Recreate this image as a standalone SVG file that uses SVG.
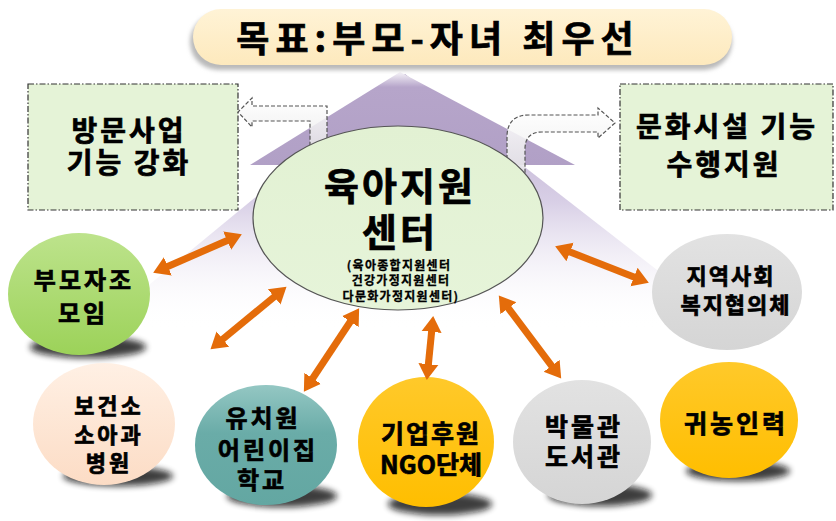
<svg xmlns="http://www.w3.org/2000/svg" width="836" height="521" viewBox="0 0 836 521">
<defs>
<style>
.t{font-family:"Noto Sans CJK KR","Noto Sans",sans-serif;font-weight:bold;fill:#000;stroke:#000;stroke-width:0.7;text-anchor:middle}
.s{stroke-width:0.3}
.box{fill:#e5f3d7;stroke:#333;stroke-width:1.2;stroke-dasharray:6 2 1.5 2}
.darr{fill:url(#gArr);stroke:#555;stroke-width:1.2;stroke-dasharray:4 2}
.oa{stroke:#e46c0a;stroke-width:7;fill:none;marker-start:url(#ah);marker-end:url(#ah)}
.sh{fill:#111;opacity:0.8;filter:url(#blur)}
</style>
<marker id="ah" viewBox="0 -11 18 22" refX="2" refY="0" markerWidth="18" markerHeight="22" markerUnits="userSpaceOnUse" orient="auto-start-reverse">
<path d="M0,-10 L16,0 L0,10 Z" fill="#e46c0a"/>
</marker>
<filter id="blur" x="-20%" y="-50%" width="140%" height="200%"><feGaussianBlur stdDeviation="3"/></filter>
<filter id="blur2" x="-10%" y="-30%" width="120%" height="160%"><feGaussianBlur stdDeviation="2"/></filter>
<linearGradient id="gBig" x1="0" y1="74" x2="0" y2="330" gradientUnits="userSpaceOnUse">
<stop offset="0" stop-color="#b3a2c7"/><stop offset="0.5" stop-color="#d8cfe6"/><stop offset="1" stop-color="#ffffff" stop-opacity="0"/>
</linearGradient>
<linearGradient id="gSmall" x1="0" y1="70" x2="0" y2="165" gradientUnits="userSpaceOnUse">
<stop offset="0" stop-color="#ffffff"/><stop offset="0.18" stop-color="#b6a5ca"/><stop offset="1" stop-color="#b1a0c6"/>
</linearGradient>
<linearGradient id="gArr" x1="0" y1="0" x2="0" y2="1">
<stop offset="0" stop-color="#ffffff" stop-opacity="0.9"/><stop offset="1" stop-color="#e8e8e8" stop-opacity="0.8"/>
</linearGradient>
<linearGradient id="gTitle" x1="0" y1="0" x2="0" y2="1">
<stop offset="0" stop-color="#fff3d6"/><stop offset="1" stop-color="#fde9bd"/>
</linearGradient>
<linearGradient id="gGreen" x1="0" y1="0" x2="0" y2="1"><stop offset="0" stop-color="#bde38c"/><stop offset="1" stop-color="#9cd259"/></linearGradient>
<linearGradient id="gPeach" x1="0" y1="0" x2="0" y2="1"><stop offset="0" stop-color="#fff0e4"/><stop offset="1" stop-color="#fcdcc5"/></linearGradient>
<linearGradient id="gTeal" x1="0" y1="0" x2="0" y2="1"><stop offset="0" stop-color="#94c7c3"/><stop offset="0.4" stop-color="#6aaca8"/><stop offset="1" stop-color="#63a7a2"/></linearGradient>
<linearGradient id="gGold" x1="0" y1="0" x2="0" y2="1"><stop offset="0" stop-color="#ffc92a"/><stop offset="1" stop-color="#ffbe00"/></linearGradient>
<linearGradient id="gGray" x1="0" y1="0" x2="0" y2="1"><stop offset="0" stop-color="#e2e2e2"/><stop offset="1" stop-color="#d5d5d5"/></linearGradient>
<linearGradient id="gEll" x1="0" y1="0" x2="0" y2="1"><stop offset="0" stop-color="#e2f1d3"/><stop offset="1" stop-color="#e6f4d9"/></linearGradient>
</defs>
<rect width="836" height="521" fill="#ffffff"/>

<!-- background fan -->
<polygon points="405,74 70,350 760,350" fill="url(#gBig)"/>
<polygon points="400,72 250,165 575,165" fill="url(#gSmall)"/>

<g id="title">
<rect x="190" y="14" width="542" height="56" rx="28" fill="#b9b9b9" filter="url(#blur2)"/>
<rect x="193" y="9" width="539" height="56" rx="28" fill="url(#gTitle)"/>
<text class="t" x="438" y="52" font-size="36" letter-spacing="6">목표:부모-자녀 최우선</text>
</g>

<g id="box-left">
<rect class="box" x="28" y="84" width="210" height="126"/>
<text class="t" x="129" y="141" font-size="28" letter-spacing="3">방문사업</text>
<text class="t" x="129" y="173" font-size="28" letter-spacing="3">기능 강화</text>
</g>
<g id="box-right">
<rect class="box" x="620" y="84" width="213" height="126"/>
<text class="t" x="727" y="137" font-size="28" letter-spacing="3">문화시설 기능</text>
<text class="t" x="724" y="175" font-size="28" letter-spacing="3">수행지원</text>
</g>

<g id="connectors">
<path class="darr" d="M327,150 L327,106 L252,106 L252,98 L238,112 L252,127 L252,121 L310,121 L310,150 Z"/>
<path class="darr" d="M507,165 L507,137 Q507,115 529,115 L598,115 L598,108 L615,123 L598,138 L598,132 L542,132 Q525,132 525,149 L525,180 Z"/>
</g>

<g id="center">
<ellipse cx="398" cy="218" rx="145" ry="92" fill="url(#gEll)" stroke="#555" stroke-width="1.2"/>
<text class="t" x="400" y="200" font-size="38" letter-spacing="3">육아지원</text>
<text class="t" x="400" y="246" font-size="38" letter-spacing="3">센터</text>
<text class="t s" x="399" y="270" font-size="12" letter-spacing="1.3">(육아종합지원센터</text>
<text class="t s" x="401" y="285" font-size="12" letter-spacing="1.3">건강가정지원센터</text>
<text class="t s" x="401" y="301" font-size="12" letter-spacing="1.3">다문화가정지원센터)</text>
</g>

<g id="n-parents">
<ellipse class="sh" cx="88" cy="347" rx="58" ry="11"/>
<ellipse cx="79" cy="294" rx="71" ry="61" fill="url(#gGreen)"/>
<text class="t" x="84" y="289" font-size="24" letter-spacing="3">부모자조</text>
<text class="t" x="83" y="322" font-size="24" letter-spacing="3">모임</text>
</g>
<g id="n-health">
<ellipse class="sh" cx="118" cy="476" rx="55" ry="10"/>
<ellipse cx="104" cy="424" rx="71" ry="61" fill="url(#gPeach)"/>
<text class="t" x="109" y="414" font-size="22" letter-spacing="3">보건소</text>
<text class="t" x="109" y="443" font-size="22" letter-spacing="3">소아과</text>
<text class="t" x="109" y="471" font-size="22" letter-spacing="3">병원</text>
</g>
<g id="n-school">
<ellipse class="sh" cx="282" cy="496" rx="55" ry="11"/>
<ellipse cx="266" cy="445" rx="71" ry="60" fill="url(#gTeal)"/>
<text class="t" x="263" y="427" font-size="24" letter-spacing="3">유치원</text>
<text class="t" x="268" y="459" font-size="24" letter-spacing="3">어린이집</text>
<text class="t" x="262" y="489" font-size="24" letter-spacing="3">학교</text>
</g>
<g id="n-ngo">
<ellipse class="sh" cx="440" cy="504" rx="52" ry="11"/>
<ellipse cx="426" cy="442" rx="68" ry="65" fill="url(#gGold)"/>
<text class="t" x="431" y="443" font-size="25" letter-spacing="2">기업후원</text>
<text class="t" x="431" y="474" font-size="25" letter-spacing="0">NGO단체</text>
</g>
<g id="n-museum">
<ellipse class="sh" cx="600" cy="495" rx="52" ry="11"/>
<ellipse cx="582" cy="442" rx="69" ry="62" fill="url(#gGray)"/>
<text class="t" x="584" y="436" font-size="25" letter-spacing="3">박물관</text>
<text class="t" x="584" y="466" font-size="25" letter-spacing="3">도서관</text>
</g>
<g id="n-farm">
<ellipse class="sh" cx="738" cy="471" rx="52" ry="10"/>
<ellipse cx="729" cy="420" rx="69" ry="58" fill="url(#gGold)"/>
<text class="t" x="736" y="433" font-size="25" letter-spacing="3">귀농인력</text>
</g>
<g id="n-welfare">
<ellipse cx="727" cy="292" rx="75" ry="58" fill="url(#gGray)"/>
<text class="t" x="731" y="284" font-size="22" letter-spacing="2">지역사회</text>
<text class="t" x="736" y="313" font-size="22" letter-spacing="2">복지협의체</text>
</g>

<g id="orange-arrows">
<line class="oa" x1="166" y1="267.2" x2="229" y2="239.8"/>
<line class="oa" x1="221.3" y1="340.4" x2="275.7" y2="295.6"/>
<line class="oa" x1="311.6" y1="380" x2="351.4" y2="320"/>
<line class="oa" x1="428.2" y1="366.1" x2="431.8" y2="329.9"/>
<line class="oa" x1="507.2" y1="306.6" x2="552.8" y2="367.4"/>
<line class="oa" x1="568.2" y1="251.3" x2="635.8" y2="277.7"/>
</g>
</svg>
